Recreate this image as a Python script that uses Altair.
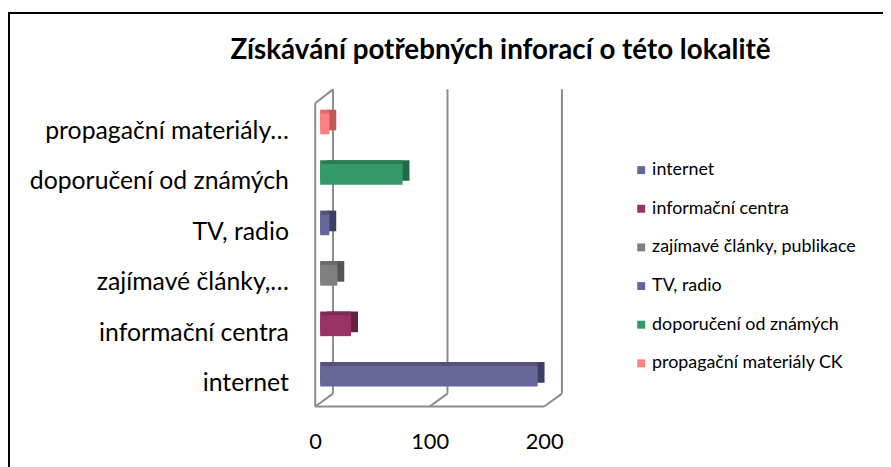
import altair as alt
import pandas as pd

# ---- data ----
names = ["internet", "informační centra", "zajímavé články, publikace",
         "TV, radio", "doporučení od známých", "propagační materiály CK"]
labels = ["internet", "informační centra", "zajímavé články,…",
          "TV, radio", "doporučení od známých", "propagační materiály…"]
values = [190, 27, 15, 8, 72, 8]
front_colors = ["#666699", "#993366", "#808080", "#666699", "#339966", "#FF8080"]
top_colors = ["#52527d", "#7d2a53", "#6b6b6b", "#52527d", "#2a7d53", "#e06b6b"]
side_colors = ["#3f3f66", "#652143", "#555555", "#3f3f66", "#236b46", "#c05858"]
ticks = [0, 100, 200]
title_text = "Získávání potřebných inforací o této lokalitě"

FONT = "Lato"
GRID = "#8c8c8c"

df = pd.DataFrame({"name": names, "label": labels, "value": values,
                   "top": top_colors, "side": side_colors})
tick_df = pd.DataFrame({"t": ticks})
ends_df = pd.DataFrame({"t0": [min(ticks)], "t1": [max(ticks)]})

W, H = 231, 305.5
L, T = 315, 89.5
R = 891 - 8 - L - W
B = 467 - 8 - T - H

xscale = alt.Scale(domain=[0, 200], nice=False)
yorder = labels[::-1]
yscale = alt.Scale(paddingInner=0.59, paddingOuter=0.295)

xaxis = alt.Axis(values=ticks, grid=False, domain=False, ticks=False, title=None,
                 labelFontSize=22, labelFont=FONT, labelColor="#000",
                 labelOffset=-5, labelPadding=30, labelFlush=False)
yaxis = alt.Axis(domain=False, ticks=False, title=None, labelFontSize=25,
                 labelFont=FONT, labelColor="#000", labelPadding=32,
                 labelOffset=7, labelLimit=400)

def X(field):
    return alt.X(field, scale=xscale, axis=xaxis, title=None)

def Y():
    return alt.Y("label:N", sort=yorder, scale=yscale, axis=yaxis)

# --- 3D frame (decoration) ---
back_grid = alt.Chart(tick_df).mark_rule(color=GRID, strokeWidth=2, xOffset=13).encode(
    x=X("t:Q"), y=alt.value(-9.5), y2=alt.value(297.5))
floor_diag = alt.Chart(tick_df).mark_rule(color=GRID, strokeWidth=2, xOffset=-5, x2Offset=13).encode(
    x=X("t:Q"), x2="t:Q", y=alt.value(310.5), y2=alt.value(297.5))
floor_front = alt.Chart(ends_df).mark_rule(color=GRID, strokeWidth=2, xOffset=-5, x2Offset=-5).encode(
    x=X("t0:Q"), x2="t1:Q", y=alt.value(310.5))
left_front = alt.Chart(ends_df).mark_rule(color=GRID, strokeWidth=2, xOffset=-5).encode(
    x=X("t0:Q"), y=alt.value(4.5), y2=alt.value(310.5))
left_top = alt.Chart(ends_df).mark_rule(color=GRID, strokeWidth=2, xOffset=-5, x2Offset=13).encode(
    x=X("t0:Q"), x2="t0:Q", y=alt.value(4.5), y2=alt.value(-9.5))

# --- bars: side face, top face, front face ---
side_bars = alt.Chart(df).mark_bar(xOffset=7, x2Offset=7, yOffset=-4, y2Offset=-4).encode(
    x=X("value:Q"), y=Y(), color=alt.Color("side:N", scale=None, legend=None))
top_bars = alt.Chart(df).mark_bar(xOffset=0, x2Offset=4, yOffset=-4, y2Offset=-4).encode(
    x=X("value:Q"), y=Y(), color=alt.Color("top:N", scale=None, legend=None))

front_bars = alt.Chart(df).mark_bar().encode(
    x=X("value:Q"), y=Y(),
    color=alt.Color("name:N", scale=alt.Scale(domain=names, range=front_colors),
                    legend=alt.Legend(title=None, orient="none", legendX=315, legendY=63,
                                      symbolType="square", symbolSize=64, symbolStrokeWidth=0,
                                      labelFont=FONT, labelFontSize=18, labelColor="#000",
                                      rowPadding=21, labelOffset=2, labelLimit=400)))

title_layer = alt.Chart(pd.DataFrame({"t": [title_text]})).mark_text(
    font=FONT, fontSize=28, fontWeight="bold", color="#000", align="center", baseline="middle"
).encode(text="t:N", x=alt.value(182), y=alt.value(-48))

frame = alt.Chart(pd.DataFrame({"a": [0]})).mark_rect(
    fill=None, stroke="#000", strokeWidth=2).encode(
    x=alt.value(-314), x2=alt.value(700), y=alt.value(-86.5), y2=alt.value(400))

chart = alt.layer(
    frame, back_grid, left_top, left_front, floor_diag, floor_front,
    side_bars, top_bars, front_bars, title_layer
).resolve_scale(color="independent").properties(
    width=W, height=H,
    padding={"left": L, "top": T, "right": R, "bottom": B},
    autosize=alt.AutoSizeParams(type="none"),
    background="white"
).configure_view(stroke=None)

chart.save("out.html", embed_options={"renderer": "svg", "actions": False})
